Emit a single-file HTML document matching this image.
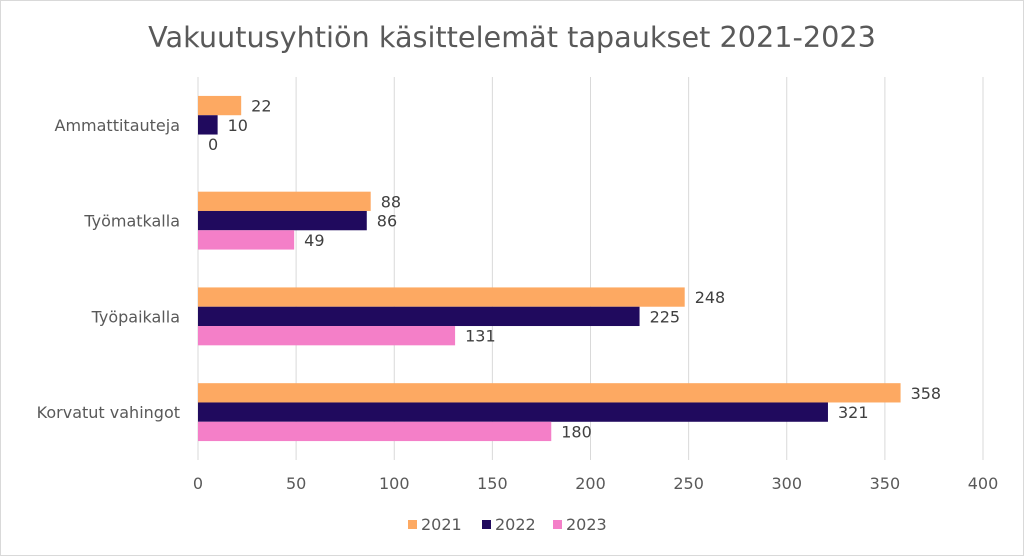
<!DOCTYPE html>
<html><head><meta charset="utf-8"><style>
body{margin:0;background:#fff}
svg{display:block;font-family:"DejaVu Sans","Liberation Sans",sans-serif}
</style></head><body>
<svg id="chart" width="1024" height="556" viewBox="0 0 1024 556" xmlns="http://www.w3.org/2000/svg">
<rect x="0.5" y="0.5" width="1023" height="555" fill="#fff" stroke="#d9d9d9"/>
<text x="512" y="47" text-anchor="middle" font-size="28.7" fill="#595959">Vakuutusyhtiön käsittelemät tapaukset 2021-2023</text>
<g id="grid"></g><g id="bars"></g><g id="labels"></g><g id="legend"></g>
</svg>
<script>
const categories=["Ammattitauteja","Työmatkalla","Työpaikalla","Korvatut vahingot"];
const seriesNames=["2021","2022","2023"];
const v2021=[22,88,248,358];
const v2022=[10,86,225,321];
const v2023=[0,49,131,180];
const ticks=[0,50,100,150,200,250,300,350,400];
const colors=["#FDA962","#200A5E","#F47FC8"];
const series=[v2021,v2022,v2023];
const NS="http://www.w3.org/2000/svg";
const x0=198,x1=983,yTop=77,yBot=460,maxV=400;
const xs=v=>x0+(x1-x0)*v/maxV;
const band=(yBot-yTop)/categories.length;
const barH=19.3;
function mk(t,a,p,txt){const e=document.createElementNS(NS,t);for(const k in a)e.setAttribute(k,a[k]);if(txt!==undefined)e.textContent=txt;document.getElementById(p).appendChild(e);return e;}
ticks.forEach(t=>{
 const l=mk('line',{x1:xs(t),x2:xs(t),y1:yTop,y2:yBot,stroke:'#d9d9d9','stroke-width':1},'grid');
 
 
 const tx=mk('text',{x:xs(t),y:489,'text-anchor':'middle','font-size':16,fill:'#595959'},'labels',t);
 
 
});
categories.forEach((c,i)=>{
 const cy=yTop+band*(i+0.5);
 const ct=mk('text',{x:180,y:cy+6,'text-anchor':'end','font-size':16,fill:'#595959'},'labels',c);
 
 
 series.forEach((s,j)=>{
  const y=cy-1.5*barH+j*barH;
  const r=mk('rect',{x:x0,y:y,width:Math.max(0,xs(s[i])-x0),height:barH,fill:colors[j]},'bars');
  
  
  const vt=mk('text',{x:xs(s[i])+10,y:y+barH/2+6,'font-size':16,fill:'#404040'},'labels',s[i]);
  
  
 });
});
const lx=[408,482,553];
seriesNames.forEach((n,j)=>{
 const r=mk('rect',{x:lx[j],y:520,width:9,height:9,fill:colors[j]},'legend');
 
 
 const t=mk('text',{x:lx[j]+13,y:530,'font-size':16,fill:'#595959'},'legend',n);
 
 
});
</script>
</body></html>
